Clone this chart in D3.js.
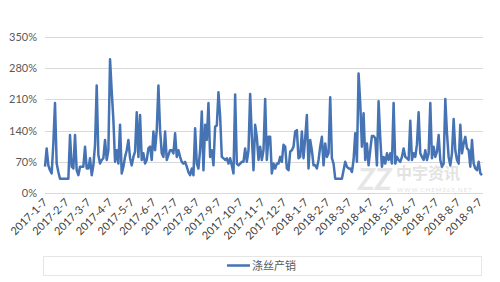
<!DOCTYPE html>
<html>
<head>
<meta charset="utf-8">
<script src="https://cdn.jsdelivr.net/npm/d3@7"></script>
<style>
  body { margin: 0; background: #fff; }
  svg { display: block; font-family: Lato, "Noto Sans CJK SC", sans-serif; }
</style>
</head>
<body>
<svg width="500" height="282"></svg>
<script>
const w = 500;
const h = 282;

const seriesName = "涤丝产销";

const yTicks = [0, 70, 140, 210, 280, 350];

const tickLabels = [
  "2017-1-7", "2017-2-7", "2017-3-7", "2017-4-7", "2017-5-7", "2017-6-7", "2017-7-7",
  "2017-8-7", "2017-9-7", "2017-10-7", "2017-11-7", "2017-12-7", "2018-1-7", "2018-2-7",
  "2018-3-7", "2018-4-7", "2018-5-7", "2018-6-7", "2018-7-7", "2018-8-7", "2018-9-7"
];

// production/sales ratio, % left to right
const values2017 = [
  59, 100, 62, 51, 44, 111, 202, 66, 47, 32, 32, 32, 32, 32, 32, 130, 59, 55, 130, 51,
  40, 59, 59, 59, 104, 55, 55, 78, 40, 62, 108, 241, 85, 66, 74, 78, 119, 74, 96, 300,
  228, 164, 70, 96, 66, 153, 44, 59, 81, 96, 119, 78, 62, 81, 93, 181, 81, 175, 74, 89,
  66, 74, 100, 104, 74, 138, 96, 141, 241, 141, 89, 81, 138, 74, 85, 96, 96, 89, 134, 81,
  96, 81, 70, 66, 70, 59, 47, 40, 55, 40, 145, 66, 55, 96, 183, 51, 153, 119, 202, 81,
  96, 62, 149, 151, 226, 172, 81, 78, 74, 78, 66, 78, 62, 44, 221, 66, 62, 66, 70, 70,
  100, 70, 96, 222, 126, 51, 153, 126, 74, 104, 74, 96, 211
];

const values2018 = [
  74, 126, 126, 44, 66, 55, 66, 66, 81, 70, 108, 104, 55, 51, 93, 96, 104, 138, 141, 78,
  81, 138, 78, 123, 175, 55, 119, 96, 62, 62, 55, 74, 104, 126, 62, 111, 81, 89, 215, 78,
  66, 32, 32, 32, 32, 32, 51, 70, 59, 55, 55, 47, 74, 134, 70, 268, 202, 104, 179, 74,
  111, 62, 96, 128, 128, 123, 62, 206, 123, 59, 81, 66, 89, 74, 89, 66, 202, 66, 81, 74,
  70, 81, 100, 81, 78, 74, 162, 74, 89, 81, 109, 181, 89, 81, 74, 96, 74, 89, 202, 78,
  104, 81, 93, 130, 74, 59, 66, 211, 134, 81, 62, 89, 166, 96, 74, 66, 153, 89, 111, 126,
  100, 96, 59, 119, 66, 55, 51, 70, 44, 40
];

const values = values2017.concat(values2018);

const svg = d3.select("svg");
const plotLeft = 45, plotRight = 482, plotTop = 37, plotBottom = 193;

const x = d3.scaleLinear()
  .domain([0, values.length - 1])
  .range([plotLeft, plotRight]);

const y = d3.scaleLinear()
  .domain([0, 350])
  .range([plotBottom, plotTop]);

const xLab = d3.scalePoint()
  .domain(tickLabels)
  .range([48, 483]);

// gridlines
svg.append("g")
  .selectAll("line")
  .data(yTicks)
  .enter().append("line")
  .attr("x1", plotLeft)
  .attr("x2", plotRight + 1)
  .attr("y1", d => Math.round(y(d)) + 0.5)
  .attr("y2", d => Math.round(y(d)) + 0.5)
  .attr("stroke", "#d9d9d9")
  .attr("stroke-width", 1);

// y labels
svg.append("g")
  .selectAll("text")
  .data(yTicks)
  .enter().append("text")
  .attr("x", 37)
  .attr("y", d => y(d) + 4)
  .attr("text-anchor", "end")
  .attr("font-size", 11)
  .attr("fill", "#595959")
  .text(d => d + "%");

// x labels
svg.append("g")
  .selectAll("text")
  .data(tickLabels)
  .enter().append("text")
  .attr("transform", d => `translate(${xLab(d)},203) rotate(-45)`)
  .attr("text-anchor", "end")
  .attr("font-size", 11)
  .attr("fill", "#404040")
  .text(d => d);

// watermark
const wm = svg.append("g").attr("fill", "#e3e3e3");
wm.append("text")
  .attr("x", 358).attr("y", 190)
  .attr("font-size", 30).attr("font-weight", "bold").attr("font-style", "italic")
  .attr("fill", "#e6e6e6")
  .text("ZZ");
wm.append("text")
  .attr("x", 396).attr("y", 179)
  .attr("font-size", 16).attr("font-weight", "bold")
  .attr("font-family", "'Noto Sans CJK SC'")
  .text("中宇资讯");
wm.append("text")
  .attr("x", 397).attr("y", 192)
  .attr("font-size", 6)
  .attr("letter-spacing", 1)
  .text("WWW.CHEM365.NET");

// series line
const line = d3.line()
  .x((d, i) => x(i))
  .y(d => y(d));

svg.append("path")
  .datum(values)
  .attr("d", line)
  .attr("fill", "none")
  .attr("stroke", "#4573b4")
  .attr("stroke-width", 2.5)
  .attr("stroke-linejoin", "round");

// legend
const legend = svg.append("g");
legend.append("rect")
  .attr("x", 43.5).attr("y", 256.5)
  .attr("width", 438).attr("height", 19)
  .attr("fill", "none")
  .attr("stroke", "#e6e6e6");
legend.append("line")
  .attr("x1", 227).attr("x2", 250)
  .attr("y1", 265.5).attr("y2", 265.5)
  .attr("stroke", "#4573b4")
  .attr("stroke-width", 2.5);
legend.append("text")
  .attr("x", 252).attr("y", 270)
  .attr("font-size", 11)
  .attr("fill", "#595959")
  .attr("font-family", "'Noto Sans CJK SC'")
  .text(seriesName);
</script>
</body>
</html>
